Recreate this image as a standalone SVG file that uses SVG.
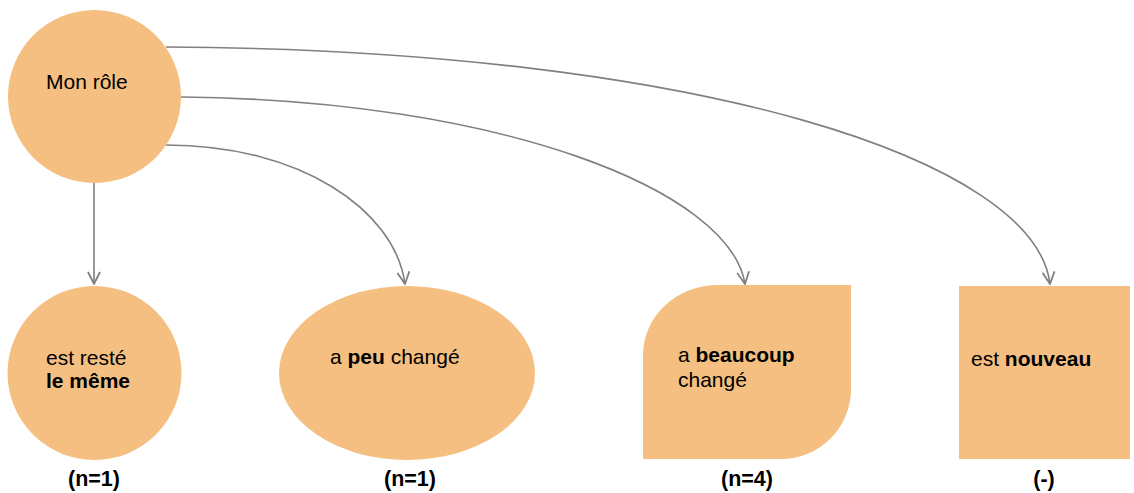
<svg xmlns="http://www.w3.org/2000/svg" width="1134" height="493" viewBox="0 0 1134 493">
<style>
.n{fill:#F4BF80;stroke:none}
.t{font-family:"Liberation Sans",Arial,sans-serif;font-size:21px;fill:#000}
.b{font-weight:bold}
.c{fill:none;stroke:#808080;stroke-width:1.6}
.l{font-family:"Liberation Sans",Arial,sans-serif;font-size:21.5px;font-weight:bold;fill:#000;text-anchor:middle}
</style>
<defs>
<marker id="ah" viewBox="0 0 14 14" refX="13" refY="7" markerWidth="14" markerHeight="14" markerUnits="userSpaceOnUse" orient="auto">
<path d="M1,1 L13,7 L1,13" fill="none" stroke="#808080" stroke-width="1.8"/>
</marker>
</defs>
<g id="connectors">
<path class="c" d="M94,183 L94,284" marker-end="url(#ah)"/>
<path class="c" d="M166,145 C300,145 395,210 405,284" marker-end="url(#ah)"/>
<path class="c" d="M181,97 C500,100 730,190 745,284" marker-end="url(#ah)"/>
<path class="c" d="M166,47 C700,50 1035,160 1050,284" marker-end="url(#ah)"/>
</g>
<g id="mon-role">
<circle class="n" cx="94.5" cy="96.5" r="86.5"/>
<text class="t" x="46" y="89">Mon rôle</text>
</g>
<g id="reste-meme">
<circle class="n" cx="94.5" cy="373" r="87"/>
<text class="t" x="46" y="365">est resté</text>
<text class="t b" x="46" y="388">le même</text>
<text class="l" x="94" y="486">(n=1)</text>
</g>
<g id="peu-change">
<ellipse class="n" cx="407" cy="373" rx="128" ry="87"/>
<text class="t" x="330" y="364">a <tspan class="b">peu</tspan> changé</text>
<text class="l" x="410" y="486">(n=1)</text>
</g>
<g id="beaucoup-change">
<path class="n" d="M718,285 L851,285 L851,389 A70,70 0 0 1 781,459 L643,459 L643,355 A75,70 0 0 1 718,285 Z"/>
<text class="t" x="678" y="362">a <tspan class="b">beaucoup</tspan></text>
<text class="t" x="678" y="387">changé</text>
<text class="l" x="747" y="486">(n=4)</text>
</g>
<g id="nouveau">
<rect class="n" x="959" y="286" width="171" height="173"/>
<text class="t" x="971" y="366">est <tspan class="b">nouveau</tspan></text>
<text class="l" x="1044" y="486">(-)</text>
</g>
</svg>
